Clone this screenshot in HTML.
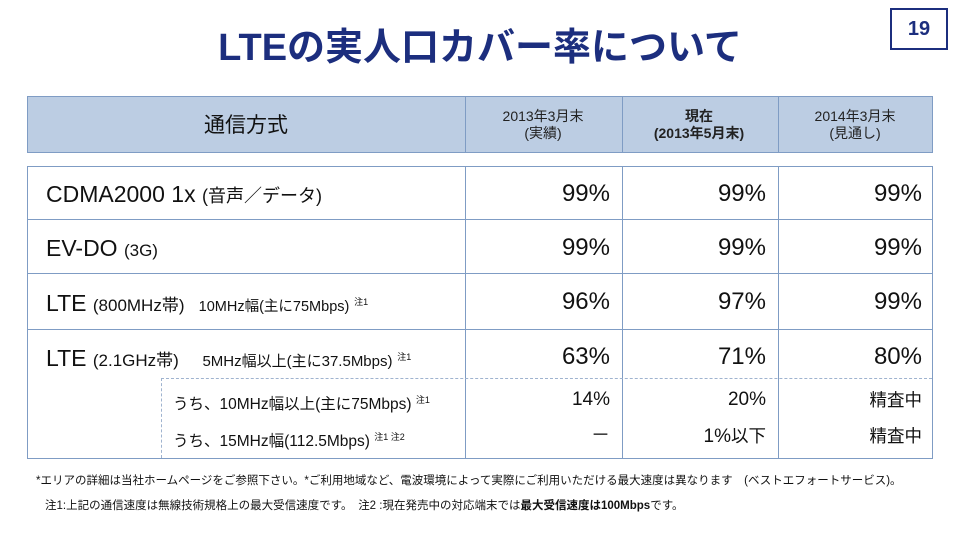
<!DOCTYPE html>
<html><head><meta charset="utf-8"><style>
body{margin:0;width:960px;height:540px;background:#fff;position:relative;overflow:hidden;font-family:"Liberation Sans","Noto Sans CJK JP",sans-serif;color:#111}
.a{position:absolute;white-space:nowrap}
.title{left:0;width:960px;top:16px;text-align:center;font-size:38px;font-weight:bold;color:#1c2e7e}
.pg{left:890px;top:8px;width:58px;height:42px;border:2px solid #1c2e7e;box-sizing:border-box;text-align:center;line-height:38px;font-size:20px;font-weight:bold;color:#1c2e7e}
.hdr{left:27px;top:96px;width:906px;height:57px;background:#bccde3;border:1px solid #7f9cc4;box-sizing:border-box}
.vl{position:absolute;width:1px;background:#7f9cc4}
.body{left:27px;top:166px;width:906px;height:293px;border:1.5px solid #7f9cc4;box-sizing:border-box}
.hl{position:absolute;height:1px;background:#7f9cc4}
.hc{text-align:center;font-size:14px;line-height:17px;color:#222}
.v{text-align:right;font-size:24px;line-height:28px}
.s{text-align:right;font-size:19px;line-height:24px}
.j{font-size:17.5px}
.lab{font-size:23px;line-height:28px}
.sm{font-size:17px}
.sup{font-size:9px;vertical-align:6px}
.ft{font-size:11.5px;color:#111}
.sub{font-size:15.5px;line-height:20px}
</style></head><body>
<div class="a title">LTEの実人口カバー率について</div>
<div class="a pg">19</div>

<div class="a hdr">
<div class="vl" style="left:437px;top:0;height:55px"></div>
<div class="vl" style="left:594px;top:0;height:55px"></div>
<div class="vl" style="left:750px;top:0;height:55px"></div>
</div>
<div class="a" style="left:27px;width:438px;top:112px;text-align:center;font-size:21px;line-height:28px">通信方式</div>
<div class="a hc" style="left:465px;width:156px;top:108px">2013年3月末<br>(実績)</div>
<div class="a hc" style="left:621px;width:156px;top:108px;font-weight:bold">現在<br>(2013年5月末)</div>
<div class="a hc" style="left:777px;width:156px;top:108px">2014年3月末<br>(見通し)</div>

<div class="a body">
<div class="vl" style="left:437px;top:0;height:291px"></div>
<div class="vl" style="left:594px;top:0;height:291px"></div>
<div class="vl" style="left:750px;top:0;height:291px"></div>
<div class="hl" style="left:0;top:52px;width:904px"></div>
<div class="hl" style="left:0;top:106px;width:904px"></div>
<div class="hl" style="left:0;top:162px;width:904px"></div>
<div style="position:absolute;left:133px;top:211px;width:771px;border-top:1px dashed #9fb3cf"></div>
<div style="position:absolute;left:133px;top:211px;height:80px;border-left:1px dashed #9fb3cf"></div>
</div>

<div class="a lab" style="left:46px;top:180px">CDMA2000 1x <span class="sm" style="font-size:18px">(音声／データ)</span></div>
<div class="a lab" style="left:46px;top:234px">EV-DO <span class="sm">(3G)</span></div>
<div class="a lab" style="left:46px;top:288px">LTE <span class="sm">(800MHz帯)&nbsp;&nbsp; <span style="font-size:14.5px">10MHz幅(主に75Mbps)</span> <span class="sup">注1</span></span></div>
<div class="a lab" style="left:46px;top:343px">LTE <span class="sm">(2.1GHz帯)&nbsp;&nbsp;&nbsp;&nbsp; <span style="font-size:15px">5MHz幅以上(主に37.5Mbps)</span> <span class="sup">注1</span></span></div>
<div class="a sub" style="left:173px;top:390px">うち、10MHz幅以上(主に75Mbps) <span class="sup">注1</span></div>
<div class="a sub" style="left:173px;top:427px">うち、15MHz幅(112.5Mbps) <span class="sup">注1 注2</span></div>

<div class="a v" style="left:465px;width:145px;top:180px">99%</div>
<div class="a v" style="left:621px;width:145px;top:180px">99%</div>
<div class="a v" style="left:777px;width:145px;top:180px">99%</div>
<div class="a v" style="left:465px;width:145px;top:234px">99%</div>
<div class="a v" style="left:621px;width:145px;top:234px">99%</div>
<div class="a v" style="left:777px;width:145px;top:234px">99%</div>
<div class="a v" style="left:465px;width:145px;top:288px">96%</div>
<div class="a v" style="left:621px;width:145px;top:288px">97%</div>
<div class="a v" style="left:777px;width:145px;top:288px">99%</div>
<div class="a v" style="left:465px;width:145px;top:343px">63%</div>
<div class="a v" style="left:621px;width:145px;top:343px">71%</div>
<div class="a v" style="left:777px;width:145px;top:343px">80%</div>
<div class="a s" style="left:465px;width:145px;top:388px">14%</div>
<div class="a s" style="left:621px;width:145px;top:388px">20%</div>
<div class="a s" style="left:777px;width:145px;top:388px"><span class="j">精査中</span></div>
<div class="a s" style="left:465px;width:145px;top:424px">－</div>
<div class="a s" style="left:621px;width:145px;top:424px">1%<span class="j">以下</span></div>
<div class="a s" style="left:777px;width:145px;top:424px"><span class="j">精査中</span></div>

<div class="a ft" style="left:36px;top:472px">*エリアの詳細は当社ホームページをご参照下さい。*ご利用地域など、電波環境によって実際にご利用いただける最大速度は異なります　(ベストエフォートサービス)。</div>
<div class="a ft" style="left:45px;top:497px">注1:上記の通信速度は無線技術規格上の最大受信速度です。　注2 :現在発売中の対応端末では<b>最大受信速度は100Mbps</b>です。</div>
</body></html>
